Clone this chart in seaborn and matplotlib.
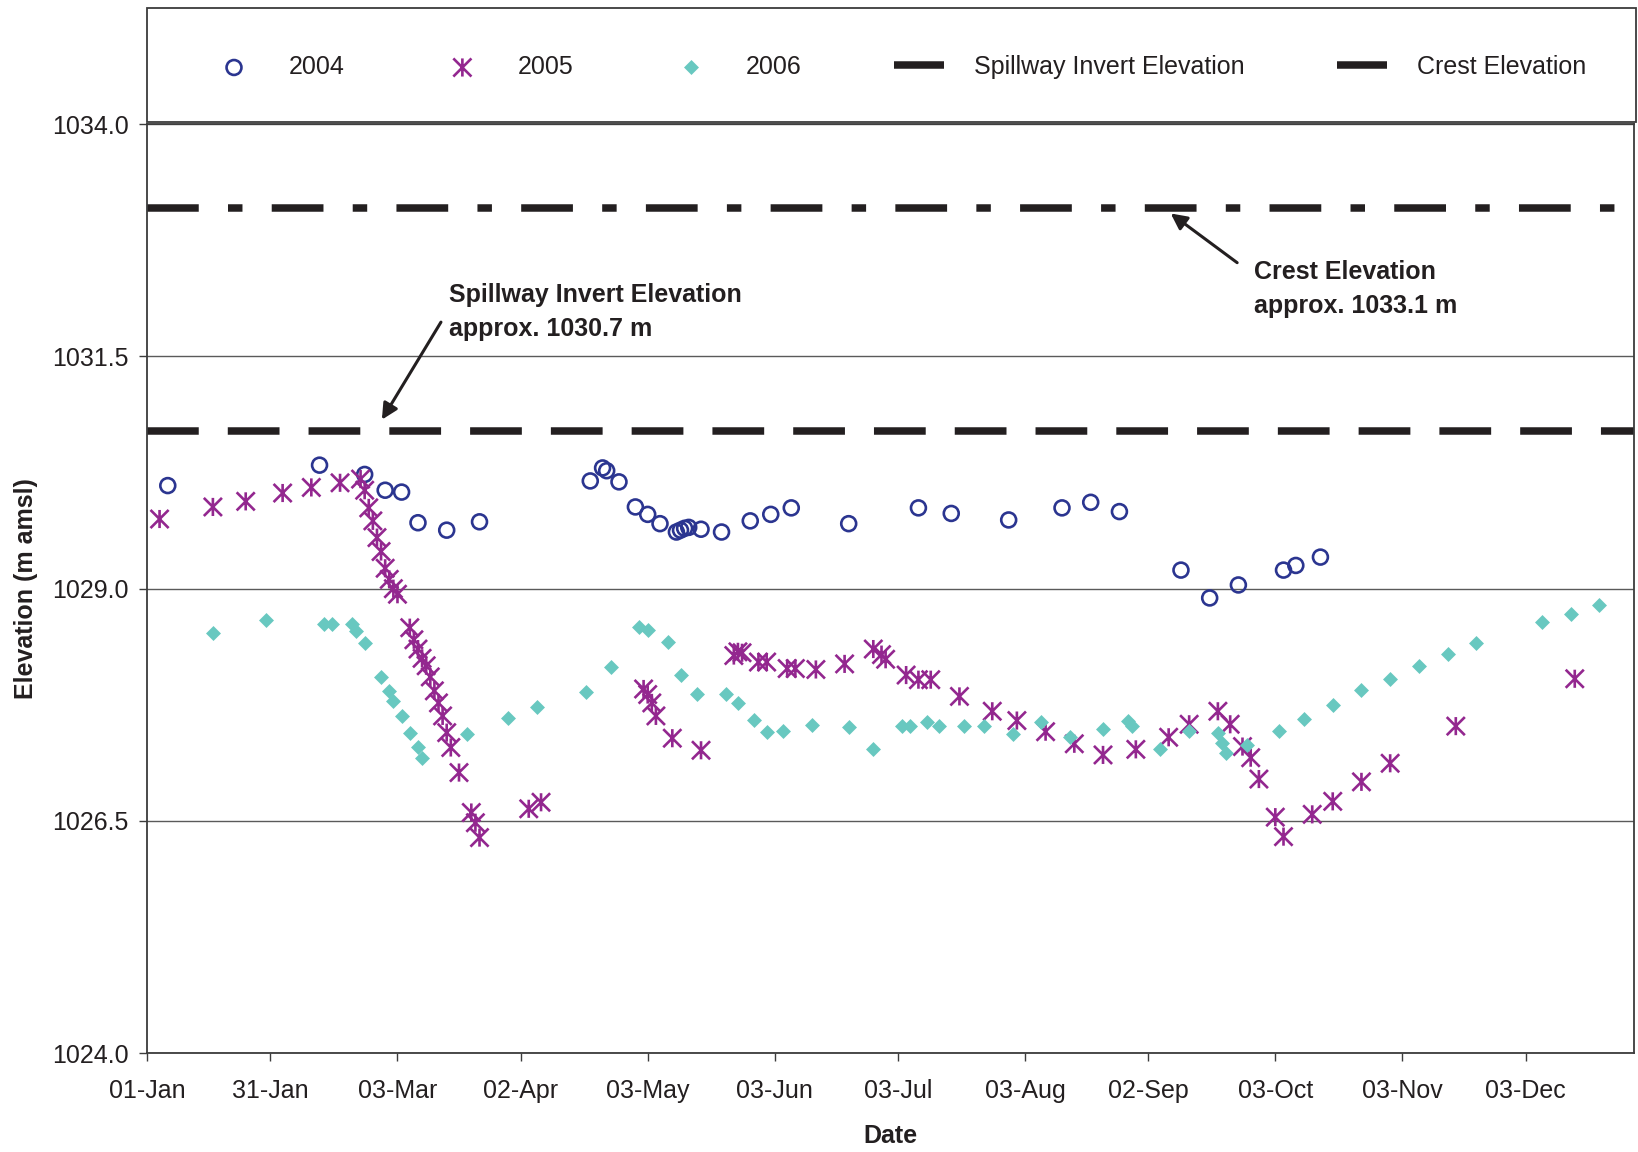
import numpy as np
import pandas as pd
import seaborn as sns
import matplotlib.pyplot as plt
from matplotlib.path import Path
from matplotlib.patches import Rectangle

# day of year (0 = 01-Jan) and water elevation (m amsl)
days_2004 = [5, 42, 53, 58, 62, 66, 73, 81, 108, 111, 112, 115, 119, 122, 125, 129, 130, 131,
             132, 135, 140, 147, 152, 157, 171, 188, 196, 210, 223, 230, 237, 252, 259, 266,
             277, 280, 286]
elev_2004 = [1030.11, 1030.33, 1030.23, 1030.06, 1030.04, 1029.71, 1029.63, 1029.72, 1030.16,
             1030.30, 1030.27, 1030.15, 1029.88, 1029.80, 1029.70, 1029.61, 1029.63, 1029.65,
             1029.66, 1029.64, 1029.61, 1029.73, 1029.80, 1029.87, 1029.70, 1029.87, 1029.81,
             1029.74, 1029.87, 1029.93, 1029.83, 1029.20, 1028.90, 1029.04, 1029.20, 1029.25,
             1029.34]

days_2005 = [3, 16, 24, 33, 40, 47, 52, 53, 54, 55, 56, 57, 58, 59, 60, 61,
             64, 65, 66, 67, 68, 69, 70, 71, 72, 73, 74, 76, 79, 80, 81,
             93, 96, 121, 122, 123, 124, 128, 135, 143, 144, 145, 149, 151, 156, 158, 163,
             170, 177, 179, 180, 185, 188, 191, 198, 206, 212, 219, 226, 233, 241, 249, 254,
             261, 264, 267, 269, 271, 275, 277, 284, 289, 296, 303, 319, 348]
elev_2005 = [1029.75, 1029.88, 1029.94, 1030.03, 1030.09, 1030.14, 1030.18, 1030.06, 1029.87,
             1029.73, 1029.55, 1029.40, 1029.22, 1029.10, 1029.00, 1028.94,
             1028.58, 1028.45, 1028.35, 1028.25, 1028.17, 1028.05, 1027.90, 1027.77, 1027.63,
             1027.45, 1027.29, 1027.02, 1026.59, 1026.48, 1026.32,
             1026.63, 1026.70, 1027.92, 1027.86, 1027.77, 1027.63, 1027.39, 1027.26, 1028.28,
             1028.32, 1028.31, 1028.21, 1028.21, 1028.14, 1028.14, 1028.13,
             1028.19, 1028.35, 1028.29, 1028.24, 1028.07, 1028.02, 1028.02, 1027.84, 1027.68,
             1027.58, 1027.46, 1027.33, 1027.21, 1027.27, 1027.40, 1027.54,
             1027.68, 1027.54, 1027.30, 1027.18, 1026.95, 1026.54, 1026.33, 1026.57, 1026.71,
             1026.92, 1027.12, 1027.52, 1028.03]

days_2006 = [16, 29, 43, 45, 50, 51, 53, 57, 59, 60, 62, 64, 66, 67, 78, 88, 95, 107, 113,
             120, 122, 127, 130, 134, 141, 144, 148, 151, 155, 162, 171, 177, 184, 186, 190,
             193, 199, 204, 211, 218, 225, 233, 239, 240, 247, 254, 261, 262, 263, 268, 276,
             282, 289, 296, 303, 310, 317, 324, 340, 347, 354]
elev_2006 = [1028.52, 1028.66, 1028.62, 1028.62, 1028.62, 1028.54, 1028.42, 1028.05, 1027.90,
             1027.79, 1027.63, 1027.45, 1027.29, 1027.18, 1027.44, 1027.61, 1027.73, 1027.89,
             1028.16, 1028.59, 1028.55, 1028.43, 1028.07, 1027.87, 1027.87, 1027.77, 1027.59,
             1027.46, 1027.47, 1027.53, 1027.51, 1027.27, 1027.52, 1027.52, 1027.56, 1027.52,
             1027.52, 1027.52, 1027.44, 1027.56, 1027.40, 1027.49, 1027.57, 1027.52, 1027.27,
             1027.47, 1027.45, 1027.34, 1027.23, 1027.32, 1027.47, 1027.60, 1027.75, 1027.91,
             1028.03, 1028.17, 1028.30, 1028.42, 1028.64, 1028.73, 1028.82]

spillway_elev = 1030.7
crest_elev = 1033.1

tick_days = [0, 30, 61, 91, 122, 153, 183, 214, 244, 275, 306, 336]
tick_labels = ['01-Jan', '31-Jan', '03-Mar', '02-Apr', '03-May', '03-Jun', '03-Jul',
               '03-Aug', '02-Sep', '03-Oct', '03-Nov', '03-Dec']
y_ticks = [1024.0, 1026.5, 1029.0, 1031.5, 1034.0]

navy = '#2B3590'
purple = '#93278F'
teal = '#68C8C0'
ink = '#231F20'
frame = '#3c3c3c'

sns.set_style('ticks')
plt.rcParams['font.family'] = ['Liberation Sans', 'DejaVu Sans']
plt.rcParams['font.size'] = 18
plt.rcParams['text.color'] = ink

fig, ax = plt.subplots(figsize=(16.38, 11.52), dpi=100)
fig.subplots_adjust(left=0.0899, right=0.9977, bottom=0.0859, top=0.8921)

# excel style "star" marker: an X with a vertical bar
star = Path([(-1, -1), (1, 1), (-1, 1), (1, -1), (0, -1), (0, 1)],
            [Path.MOVETO, Path.LINETO] * 3)

sns.scatterplot(x=days_2004, y=elev_2004, ax=ax, marker='o', s=115, facecolor='none',
                edgecolor=navy, linewidth=1.9, label='2004', zorder=3)
sns.scatterplot(x=days_2005, y=elev_2005, ax=ax, marker=star, s=170, facecolor='none',
                edgecolor=purple, linewidth=1.9, label='2005', zorder=3)
sns.scatterplot(x=days_2006, y=elev_2006, ax=ax, marker='D', s=58, color=teal,
                linewidth=0, label='2006', zorder=3)

ax.axhline(spillway_elev, color=ink, lw=5.4, dashes=(6.9, 3.87),
           label='Spillway Invert Elevation', zorder=2)
ax.axhline(crest_elev, color=ink, lw=5.4, dashes=(6.9, 3.9, 1.93, 3.9),
           label='Crest Elevation', zorder=2)

# annotations
ax.annotate('', xy=(57.2, 1030.82), xytext=(71.6, 1031.87),
            arrowprops=dict(arrowstyle='-|>', color=ink, lw=2.2, mutation_scale=24,
                            shrinkA=0, shrinkB=0))
ax.text(73.5, 1031.98, 'Spillway Invert Elevation\napprox. 1030.7 m', fontweight='bold',
        fontsize=18, ha='left', va='center', linespacing=1.54, color=ink)
ax.annotate('', xy=(249.5, 1033.04), xytext=(265.7, 1032.51),
            arrowprops=dict(arrowstyle='-|>', color=ink, lw=2.2, mutation_scale=24,
                            shrinkA=0, shrinkB=0))
ax.text(269.7, 1032.23, 'Crest Elevation\napprox. 1033.1 m', fontweight='bold',
        fontsize=18, ha='left', va='center', linespacing=1.54, color=ink)

ax.set_xlim(0, 362.5)
ax.set_ylim(1024.0, 1034.0)
ax.set_xticks(tick_days)
ax.set_xticklabels(tick_labels)
ax.set_yticks(y_ticks)
ax.set_yticklabels([f'{v:.1f}' for v in y_ticks])
ax.tick_params(axis='both', direction='out', length=5.5, width=1.0, color=frame,
               labelsize=18, labelcolor=ink)
ax.tick_params(axis='x', pad=13)
ax.tick_params(axis='y', pad=8)

ax.yaxis.grid(True, color='#5a5a5a', lw=1.0)
ax.xaxis.grid(False)
ax.set_axisbelow(True)
for sp in ax.spines.values():
    sp.set_visible(True)
    sp.set_color(frame)
    sp.set_linewidth(1.3)

ax.set_xlabel('Date', fontweight='bold', fontsize=18, labelpad=15, color=ink)
ax.set_ylabel('Elevation (m amsl)', fontweight='bold', fontsize=18, labelpad=10, color=ink)

# legend sits in its own box above the plot area
handles, labels = ax.get_legend_handles_labels()
order = ['2004', '2005', '2006', 'Spillway Invert Elevation', 'Crest Elevation']
hmap = dict(zip(labels, handles))
if ax.get_legend() is not None:
    ax.get_legend().remove()
fig.legend([hmap[k] for k in order], order, loc='center', bbox_to_anchor=(0.548, 0.9418),
           ncol=5, frameon=False, fontsize=18, handlelength=2.0, handletextpad=1.2,
           columnspacing=3.7, scatterpoints=1)
fig.add_artist(Rectangle((0.0899, 0.8941), 0.9089, 0.0986, transform=fig.transFigure,
                         fill=False, edgecolor=frame, lw=1.3))

fig.savefig('out.png', dpi=100)
